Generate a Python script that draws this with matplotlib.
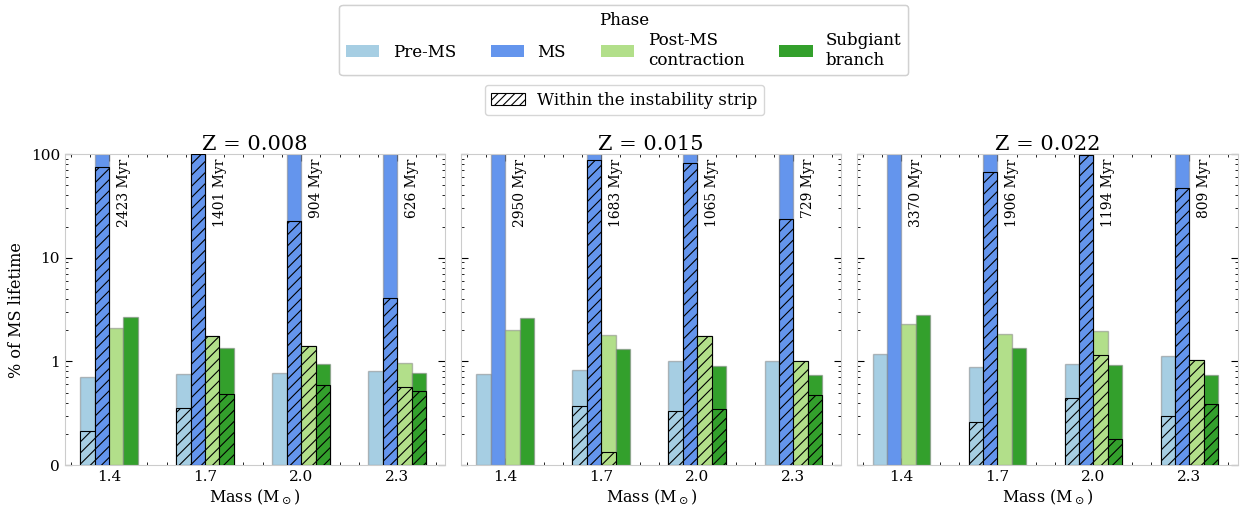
import numpy as np
import matplotlib
matplotlib.use("Agg")
import matplotlib.pyplot as plt
from matplotlib.patches import Patch
from matplotlib.ticker import AutoMinorLocator, FixedLocator

plt.rcParams['font.family'] = ['DejaVu Serif']
plt.rcParams['hatch.linewidth'] = 0.8

# data: % of MS lifetime spent in each phase (total / within instability strip)
masses = [1.4, 1.7, 2.0, 2.3]
metallicities = ['0.008', '0.015', '0.022']
phases = ['Pre-MS', 'MS', 'Post-MS\ncontraction', 'Subgiant\nbranch']
colors = ['#a6cee3', 'cornflowerblue', '#b2df8a', '#33a02c']

ms_ages = [
    [2423, 1401, 904, 626],
    [2950, 1683, 1065, 729],
    [3370, 1906, 1194, 809],
]

premsTotal = [
    [0.70, 0.75, 0.77, 0.81],
    [0.75, 0.82, 1.00, 1.00],
    [1.19, 0.89, 0.94, 1.12],
]
premsStrip = [
    [0.213, 0.352, 0, 0],
    [0, 0.368, 0.332, 0],
    [0, 0.262, 0.44, 0.30],
]
msTotal = [
    [100, 100, 100, 100],
    [100, 100, 100, 100],
    [100, 100, 100, 100],
]
msStrip = [
    [75.4, 100, 22.7, 4.06],
    [0, 86.9, 81.3, 23.4],
    [0, 67.5, 98.0, 46.7],
]
postTotal = [
    [2.08, 1.74, 1.41, 0.96],
    [2.00, 1.79, 1.75, 1.00],
    [2.29, 1.82, 1.98, 1.03],
]
postStrip = [
    [0, 1.74, 1.41, 0.565],
    [0, 0.133, 1.75, 1.00],
    [0, 0, 1.15, 1.03],
]
sgbTotal = [
    [2.66, 1.34, 0.94, 0.77],
    [2.65, 1.31, 0.91, 0.74],
    [2.80, 1.36, 0.93, 0.74],
]
sgbStrip = [
    [0, 0.484, 0.59, 0.518],
    [0, 0, 0.347, 0.473],
    [0, 0, 0.177, 0.387],
]

totals = [premsTotal, msTotal, postTotal, sgbTotal]
strips = [premsStrip, msStrip, postStrip, sgbStrip]

width = 0.045
ymin = 0.1

fig, axes = plt.subplots(1, 3, figsize=(12.4, 5.05), dpi=100, sharey=True)
fig.subplots_adjust(left=0.0524, right=0.998, bottom=0.079, top=0.695, wspace=0.042)

for k, ax in enumerate(axes):
    for i in range(4):
        xs = np.array(masses) + (i - 1.5) * width
        tot = np.array(totals[i][k])
        ax.bar(xs, tot - ymin, width, bottom=ymin, color=colors[i],
               edgecolor=(0.5, 0.5, 0.5, 0.5), linewidth=1.0, zorder=2)
        st = np.array(strips[i][k])
        for x, h in zip(xs, st):
            if h > 0:
                ax.bar(x, h - ymin, width, bottom=ymin, color=colors[i],
                       edgecolor='black', hatch='///', linewidth=0.8, zorder=3)
    # total MS duration next to the MS bar
    for j, m in enumerate(masses):
        ax.text(m + 0.025, 0.985, '%d Myr' % ms_ages[k][j], rotation=90,
                ha='left', va='top', fontsize=10,
                transform=ax.get_xaxis_transform(), zorder=4)
    ax.set_yscale('log')
    ax.set_ylim(ymin, 100)
    ax.set_xlim(masses[0] - 0.1375, masses[-1] + 0.15)
    ax.set_xticks(masses)
    ax.set_xticklabels(['%.1f' % m for m in masses])
    ax.xaxis.set_minor_locator(AutoMinorLocator(5))
    ax.yaxis.set_major_locator(FixedLocator([0.1, 1, 10, 100]))
    ax.set_yticklabels(['0', '1', '10', '100'])
    ax.tick_params(which='both', direction='in', top=True, right=True,
                   labelsize=11)
    ax.tick_params(which='major', length=5)
    ax.tick_params(which='minor', length=2.5)
    for s in ax.spines.values():
        s.set_color('#cccccc')
    ax.set_title('Z = ' + metallicities[k], fontsize=15, pad=2)
    ax.set_xlabel(r'Mass (M$_\odot$)', fontsize=11.5, labelpad=2)

axes[0].set_ylabel('% of MS lifetime', fontsize=11.5)

handles = [Patch(facecolor=c, edgecolor='none') for c in colors]
leg1 = fig.legend(handles, phases, loc='upper center', ncol=4, title='Phase',
                  bbox_to_anchor=(0.503, 0.99), borderaxespad=0,
                  fontsize=12, title_fontsize=12,
                  handlelength=2.0, handleheight=0.8, handletextpad=0.8,
                  columnspacing=2.1, labelspacing=0.2)
fig.add_artist(leg1)
hatch_patch = Patch(facecolor='white', edgecolor='black', hatch='////', linewidth=0.8)
fig.legend([hatch_patch], ['Within the instability strip'], loc='upper center',
           bbox_to_anchor=(0.5036, 0.832), borderaxespad=0, fontsize=12,
           handlelength=2.0, handletextpad=0.75)

fig.savefig('out.png')
